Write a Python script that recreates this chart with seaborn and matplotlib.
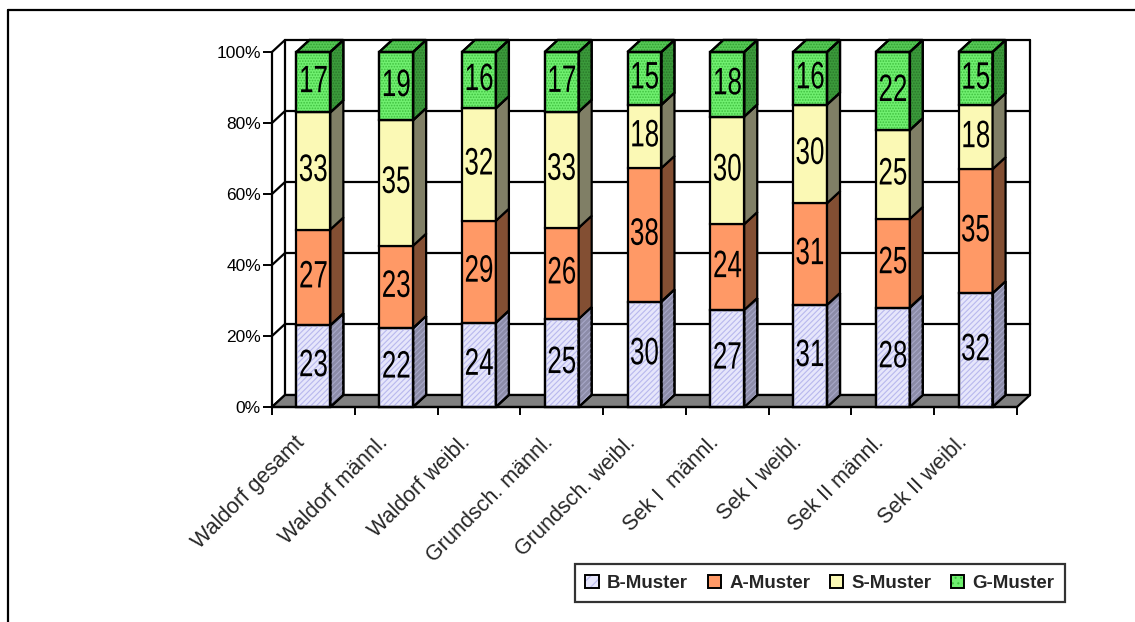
import numpy as np
import pandas as pd
import matplotlib
matplotlib.use("Agg")
import matplotlib.pyplot as plt
import seaborn as sns
from matplotlib.patches import Polygon, Patch
from matplotlib.lines import Line2D
from matplotlib.legend_handler import HandlerTuple
from matplotlib.transforms import ScaledTranslation, Affine2D
from matplotlib.patheffects import AbstractPathEffect

# ---- data -------------------------------------------------------------
categories = ["Waldorf gesamt", "Waldorf männl.", "Waldorf weibl.",
              "Grundsch. männl.", "Grundsch. weibl.", "Sek I  männl.",
              "Sek I weibl.", "Sek II männl.", "Sek II weibl."]
series_names = ["B-Muster", "A-Muster", "S-Muster", "G-Muster"]
b_muster = [23, 22, 24, 25, 30, 27, 31, 28, 32]
a_muster = [27, 23, 29, 26, 38, 24, 31, 25, 35]
s_muster = [33, 35, 32, 33, 18, 30, 30, 25, 18]
g_muster = [17, 19, 16, 17, 15, 18, 16, 22, 15]
y_ticks = [0, 20, 40, 60, 80, 100]
y_tick_labels = ["0%", "20%", "40%", "60%", "80%", "100%"]

# ---- styles -----------------------------------------------------------
front_colors = ["#E6E6FB", "#FF9966", "#FBF9B5", "#70F070"]
side_colors = ["#8C8CA8", "#834F33", "#807F66", "#3B9A3B"]
top_color = "#57C957"
hatches = ["//////", None, None, "......"]
hatch_front = ["#B8B8EE", None, None, "#3FBF3F"]
hatch_side = ["#A8A8C8", None, None, "#2A7A2A"]


class SqueezeX(AbstractPathEffect):
    """Narrow the glyph outlines horizontally around the text centre."""

    def __init__(self, factor):
        super().__init__()
        self.factor = factor

    def draw_path(self, renderer, gc, tpath, affine, rgbFace=None):
        ext = tpath.get_extents()
        cx = (ext.x0 + ext.x1) / 2
        squeeze = (Affine2D().translate(-cx, 0).scale(self.factor, 1)
                   .translate(cx, 0))
        renderer.draw_path(gc, tpath, squeeze + affine, rgbFace)


sns.set_style("white")
plt.rcParams["font.family"] = ["Liberation Sans", "DejaVu Sans"]
plt.rcParams["hatch.linewidth"] = 0.8

W, H = 1135, 622
fig = plt.figure(figsize=(W / 100, H / 100), dpi=100)
ax = fig.add_axes([272 / W, 1 - 407 / H, 745 / W, 355 / H])

values = np.array([b_muster, a_muster, s_muster, g_muster], dtype=float)
shares = values / values.sum(axis=0) * 100

ax.set_xlim(-0.5, len(categories) - 0.5)
ax.set_ylim(0, 100)

# depth of the 3D box in data units
dx = 13 / (ax.bbox.width / len(categories))
dy = 12 / (ax.bbox.height / 100)
x_left, x_right = -0.5, len(categories) - 0.5
LW = 1.6

# walls and floor
ax.add_patch(Polygon([(x_left + dx, dy), (x_right + dx, dy),
                      (x_right + dx, 100 + dy), (x_left + dx, 100 + dy)],
                     closed=True, facecolor="white", edgecolor="none",
                     zorder=0.2, clip_on=False))
for t in y_ticks:
    ax.plot([x_left, x_left + dx, x_right + dx], [t, t + dy, t + dy],
            color="black", lw=LW, zorder=0.5, clip_on=False,
            solid_joinstyle="miter")
for xe in (x_left + dx, x_right + dx):
    ax.plot([xe, xe], [dy, 100 + dy], color="black", lw=LW, zorder=0.5,
            clip_on=False)
ax.add_patch(Polygon([(x_left, 0), (x_right, 0), (x_right + dx, dy),
                      (x_left + dx, dy)], closed=True, facecolor="#808080",
                     edgecolor="black", lw=LW, zorder=0.6, clip_on=False))


def face(points, **kw):
    ax.add_patch(Polygon(points, closed=True, clip_on=False,
                         joinstyle="miter", **kw))


# stacked bars
bottom = np.zeros(len(categories))
for k, name in enumerate(series_names):
    df = pd.DataFrame({"Kategorie": categories, "Anteil": shares[k]})
    n0 = len(ax.patches)
    sns.barplot(data=df, x="Kategorie", y="Anteil", order=categories,
                bottom=bottom.copy(), color=front_colors[k], saturation=1,
                width=0.41, errorbar=None, edgecolor="black", linewidth=LW,
                ax=ax, zorder=2)
    bars = ax.patches[n0:]
    for j, p in enumerate(bars):
        p.set_clip_on(False)
        x0, w = p.get_x(), p.get_width()
        y0, h = p.get_y(), p.get_height()
        front = [(x0, y0), (x0 + w, y0), (x0 + w, y0 + h), (x0, y0 + h)]
        side = [(x0 + w, y0), (x0 + w + dx, y0 + dy),
                (x0 + w + dx, y0 + h + dy), (x0 + w, y0 + h)]
        face(side, facecolor=side_colors[k], edgecolor="black", lw=LW,
             zorder=2)
        if hatches[k]:
            face(front, facecolor="none", edgecolor=hatch_front[k], lw=0,
                 hatch=hatches[k], zorder=2.1)
            face(side, facecolor="none", edgecolor=hatch_side[k], lw=0,
                 hatch=hatches[k], zorder=2.1)
            face(front, facecolor="none", edgecolor="black", lw=LW,
                 zorder=2.2)
            face(side, facecolor="none", edgecolor="black", lw=LW,
                 zorder=2.2)
        if k == len(series_names) - 1:
            top = [(x0, y0 + h), (x0 + dx, y0 + h + dy),
                   (x0 + w + dx, y0 + h + dy), (x0 + w, y0 + h)]
            face(top, facecolor=top_color, edgecolor="black", lw=LW,
                 zorder=2)
            face(top, facecolor="none", edgecolor="#2F9F2F", lw=0,
                 hatch="......", zorder=2.1)
            face(top, facecolor="none", edgecolor="black", lw=LW,
                 zorder=2.2)
        ax.text(x0 + w / 2, y0 + h / 2, str(int(values[k, j])),
                ha="center", va="center", fontsize=27.5, color="black",
                zorder=4, clip_on=False, path_effects=[SqueezeX(0.68)])
    bottom += shares[k]

# axes, ticks and labels
for s in ("top", "right"):
    ax.spines[s].set_visible(False)
for s in ("left", "bottom"):
    ax.spines[s].set_color("black")
    ax.spines[s].set_linewidth(LW)
    ax.spines[s].set_zorder(3)
ax.set_xlabel("")
ax.set_ylabel("")
ax.set_yticks(y_ticks, labels=y_tick_labels)
ax.tick_params(axis="y", direction="out", length=6.5, width=1.4,
               labelsize=12.5, pad=1.5, left=True, colors="black")
ax.set_xticks(range(len(categories)), labels=categories)
ax.set_xticks(np.arange(len(categories) + 1) - 0.5, minor=True)
ax.tick_params(axis="x", which="major", length=0, pad=18, labelsize=15.5)
ax.tick_params(axis="x", which="minor", direction="out", length=6,
               width=1.4, bottom=True, colors="black")
offset = ScaledTranslation(-19 / 100, 0, fig.dpi_scale_trans)
for lbl in ax.get_xticklabels():
    lbl.set_rotation(45)
    lbl.set_ha("right")
    lbl.set_va("top")
    lbl.set_rotation_mode("anchor")
    lbl.set_transform(lbl.get_transform() + offset)
ax.grid(False)
ax.patch.set_visible(False)

# legend
handles = []
for k in range(len(series_names)):
    parts = [Patch(facecolor=front_colors[k], edgecolor="none")]
    if hatches[k]:
        parts.append(Patch(facecolor="none", edgecolor=hatch_front[k],
                           hatch=hatches[k][:3], lw=0))
    parts.append(Patch(facecolor="none", edgecolor="black", lw=1.4))
    handles.append(tuple(parts))
leg = fig.legend(handles, series_names, ncol=4, loc="lower right",
                 bbox_to_anchor=(1065 / W, 20 / H), frameon=True,
                 fancybox=False, edgecolor="black",
                 prop={"weight": "bold", "size": 13.5},
                 handler_map={tuple: HandlerTuple(ndivide=1)},
                 handlelength=0.7, handleheight=0.7, handletextpad=0.45,
                 columnspacing=1.05, borderpad=0.55, borderaxespad=0)
leg.get_frame().set_linewidth(LW)

# outer frame (left and top edges)
fig.add_artist(Line2D([8 / W, 8 / W], [0, 1 - 10 / H], color="black",
                      lw=LW, transform=fig.transFigure))
fig.add_artist(Line2D([8 / W, 1], [1 - 10 / H, 1 - 10 / H], color="black",
                      lw=LW, transform=fig.transFigure))

fig.savefig("out.png", dpi=100, facecolor="white")
